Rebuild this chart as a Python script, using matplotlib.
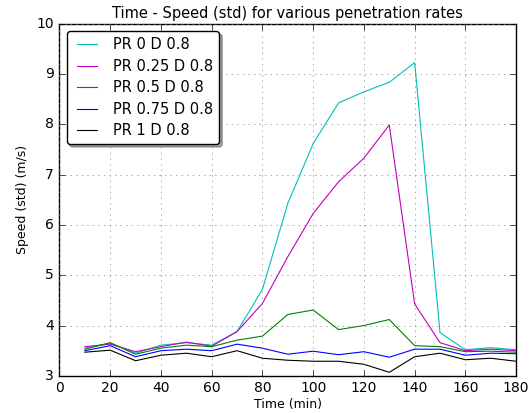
import matplotlib
matplotlib.use('Agg')
import matplotlib.pyplot as plt

# 数据：时间与各渗透率下的速度标准差
time = [10, 20, 30, 40, 50, 60, 70, 80, 90, 100, 110, 120, 130, 140, 150, 160, 170, 180]
pr0 = [3.55, 3.65, 3.45, 3.61, 3.66, 3.61, 3.88, 4.72, 6.43, 7.62, 8.43, 8.65, 8.84, 9.23, 3.86, 3.52, 3.56, 3.52]
pr025 = [3.58, 3.63, 3.48, 3.58, 3.67, 3.59, 3.88, 4.44, 5.37, 6.23, 6.86, 7.33, 7.99, 4.43, 3.66, 3.50, 3.53, 3.50]
pr05 = [3.53, 3.66, 3.43, 3.55, 3.61, 3.58, 3.71, 3.79, 4.22, 4.31, 3.92, 4.00, 4.12, 3.60, 3.58, 3.48, 3.49, 3.47]
pr075 = [3.50, 3.60, 3.38, 3.50, 3.53, 3.50, 3.63, 3.55, 3.43, 3.49, 3.42, 3.48, 3.37, 3.53, 3.53, 3.41, 3.45, 3.44]
pr1 = [3.47, 3.51, 3.30, 3.41, 3.45, 3.38, 3.50, 3.35, 3.31, 3.29, 3.29, 3.23, 3.07, 3.38, 3.45, 3.32, 3.35, 3.29]

labels = ['PR 0 D 0.8', 'PR 0.25 D 0.8', 'PR 0.5 D 0.8', 'PR 0.75 D 0.8', 'PR 1 D 0.8']
colors = ['c', 'm', 'g', 'b', 'k']

plt.style.use('classic')
fig = plt.figure(figsize=(5.31, 4.13), dpi=100, facecolor='white')
ax = fig.add_axes([0.112, 0.090, 0.860, 0.852])

for ys, lab, col in zip([pr0, pr025, pr05, pr075, pr1], labels, colors):
    ax.plot(time, ys, color=col, linewidth=0.8, label=lab)

ax.set_xlim(0, 180)
ax.set_ylim(3, 10)
ax.set_title('Time - Speed (std) for various penetration rates', fontsize=10.5, pad=4)
ax.set_xlabel('Time (min)', fontsize=9, labelpad=2)
ax.set_ylabel('Speed (std) (m/s)', fontsize=9)
ax.tick_params(labelsize=10)
ax.grid(True, linestyle=':', color='gray')
ax.legend(loc='upper left', fontsize=10.5, shadow=True, fancybox=True,
          labelspacing=0.45, handlelength=2.0, borderaxespad=0.5)

fig.savefig('out.png', dpi=100, facecolor='white')
